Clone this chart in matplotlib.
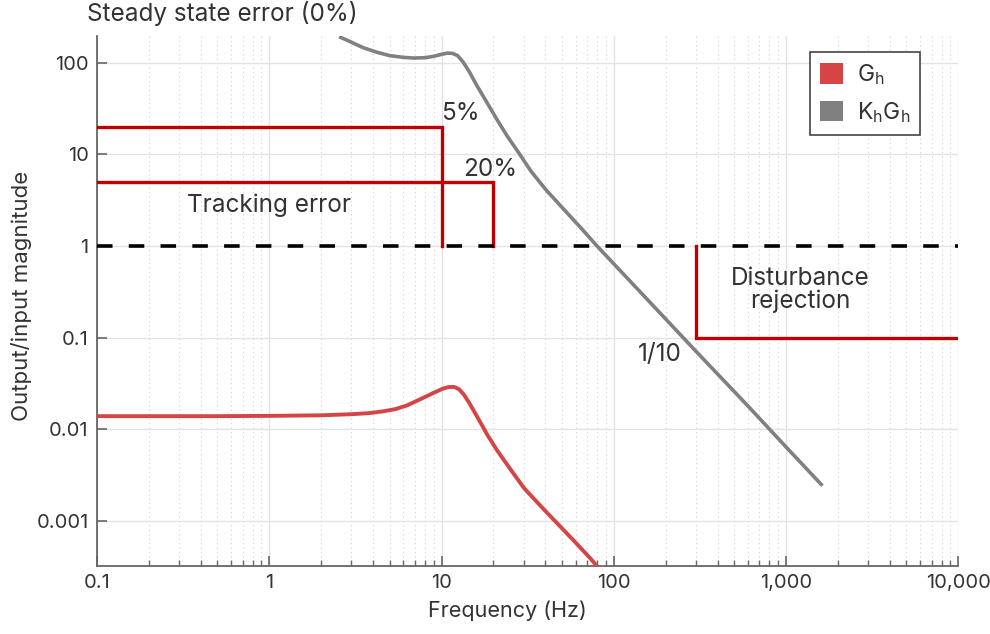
import matplotlib.pyplot as plt
from matplotlib.patches import Patch
from matplotlib.ticker import FixedLocator, LogLocator, NullFormatter

plt.rcParams['font.family'] = ['Inter', 'DejaVu Sans']

# Gh (plant)
gh_freq = [0.1, 0.5, 1, 2, 3, 3.8, 4.6, 5.4, 6.3, 7.5, 9, 10.2, 11, 11.8, 12.6, 13.5,
           14.5, 15.6, 16.8, 18.5, 21, 25, 30, 37, 45, 58, 73, 80]
gh_mag = [0.0139, 0.0139, 0.014, 0.0142, 0.0146, 0.015, 0.0157, 0.0166, 0.0182, 0.0212,
          0.025, 0.0278, 0.0289, 0.029, 0.0275, 0.0238, 0.0193, 0.0152, 0.0119, 0.0086,
          0.0059, 0.0037, 0.0023, 0.0015, 0.00102, 0.00062, 0.00039, 0.00032]

# Kh*Gh (loop)
khgh_freq = [2.6, 3.0, 3.5, 4.2, 5.0, 6.0, 6.9, 8.0, 9.0, 10.0, 10.8, 11.6, 12.4, 13.3,
             14.5, 16.0, 18.5, 21, 24, 28, 33, 40, 50, 65, 80, 160, 300, 600, 1000, 1600]
khgh_mag = [190, 168, 147, 131, 120, 115, 113, 114, 118, 124, 128, 127, 120, 103,
            80, 57, 36, 24, 16, 10.5, 6.6, 4.2, 2.65, 1.55, 1.0, 0.25, 0.071, 0.018,
            0.0064, 0.0025]

# specification boundaries
track5_freq = [0.1, 10, 10]
track5_mag = [20, 20, 1]
track20_freq = [0.1, 20, 20]
track20_mag = [5, 5, 1]
dist_freq = [300, 300, 10000]
dist_mag = [1, 0.1, 0.1]
unity_freq = [0.1, 10000]
unity_mag = [1, 1]

xticks = [0.1, 1, 10, 100, 1000, 10000]
xticklabels = ['0.1', '1', '10', '100', '1,000', '10,000']
yticks = [0.001, 0.01, 0.1, 1, 10, 100]
yticklabels = ['0.001', '0.01', '0.1', '1', '10', '100']

spec_red = '#c00000'
gh_red = '#d64545'
gray = '#808080'
txt = '#333333'
fs = 17.5

fig = plt.figure(figsize=(9.9, 6.34), dpi=100)
ax = fig.add_axes([0.098, 0.107, 0.870, 0.836])

ax.plot(track5_freq, track5_mag, color=spec_red, lw=2.4, solid_joinstyle='miter', zorder=3)
ax.plot(track20_freq, track20_mag, color=spec_red, lw=2.4, solid_joinstyle='miter', zorder=3)
ax.plot(dist_freq, dist_mag, color=spec_red, lw=2.4, solid_joinstyle='miter', zorder=3)
ax.plot(unity_freq, unity_mag, color='black', lw=2.6, dashes=(4.3, 4.5), zorder=4)
ax.plot(gh_freq, gh_mag, color=gh_red, lw=2.8, solid_capstyle='butt', zorder=5)
ax.plot(khgh_freq, khgh_mag, color=gray, lw=2.6, zorder=5)

ax.set_xscale('log')
ax.set_yscale('log')
ax.set_xlim(0.1, 10000)
ax.set_ylim(3.2e-4, 196)

ax.set_xticks(xticks)
ax.set_xticklabels(xticklabels)
ax.xaxis.set_minor_locator(LogLocator(base=10, subs=range(2, 10), numticks=20))
ax.xaxis.set_minor_formatter(NullFormatter())
ax.yaxis.set_major_locator(FixedLocator(yticks))
ax.set_yticklabels(yticklabels)
ax.yaxis.set_minor_locator(FixedLocator([]))

ax.grid(True, which='major', color='#e3e3e3', lw=1.0)
ax.grid(True, which='minor', axis='x', color='#d0d0d0', lw=0.8, ls=(0, (1, 3)))
ax.set_axisbelow(True)

for s in ['top', 'right']:
    ax.spines[s].set_visible(False)
for s in ['left', 'bottom']:
    ax.spines[s].set_color('#666666')
    ax.spines[s].set_linewidth(1.3)
ax.tick_params(which='major', direction='in', length=7, width=1.2, color='#666666',
               labelsize=14.5, labelcolor=txt, pad=6)
ax.tick_params(which='minor', direction='in', length=4, width=1.0, color='#666666')

ax.set_xlabel('Frequency (Hz)', fontsize=15.5, color=txt)
ax.xaxis.set_label_coords(0.476, -0.065)
ax.set_ylabel('Output/input magnitude', fontsize=16, color=txt)
ax.yaxis.set_label_coords(-0.076, 0.51)

ax.text(12.9, 28, '5%', fontsize=fs, color=txt, ha='center', va='center')
ax.text(19.2, 6.8, '20%', fontsize=fs, color=txt, ha='center', va='center')
ax.text(1.0, 2.8, 'Tracking error', fontsize=fs, color=txt, ha='center', va='center')
ax.text(1210, 0.33, 'Disturbance\nrejection', fontsize=fs, color=txt, ha='center',
        va='center', linespacing=1.0)
ax.text(186, 0.065, '1/10', fontsize=fs, color=txt, ha='center', va='center')
fig.text(0.088, 0.978, 'Steady state error (0%)', fontsize=fs, color=txt, ha='left', va='center')

handles = [Patch(facecolor=gh_red, edgecolor='none', label=r'G$\mathregular{_h}$'),
           Patch(facecolor=gray, edgecolor='none', label=r'K$\mathregular{_h}$G$\mathregular{_h}$')]
leg = ax.legend(handles=handles, loc='upper right', bbox_to_anchor=(0.956, 0.97),
                fontsize=16.5, fancybox=False, framealpha=1, edgecolor='#444444',
                handlelength=1.0, handleheight=1.0, handletextpad=0.6,
                borderpad=0.45, labelspacing=0.55, borderaxespad=0)
leg.get_frame().set_linewidth(1.2)
for t in leg.get_texts():
    t.set_color(txt)

fig.savefig('out.png', dpi=100)
